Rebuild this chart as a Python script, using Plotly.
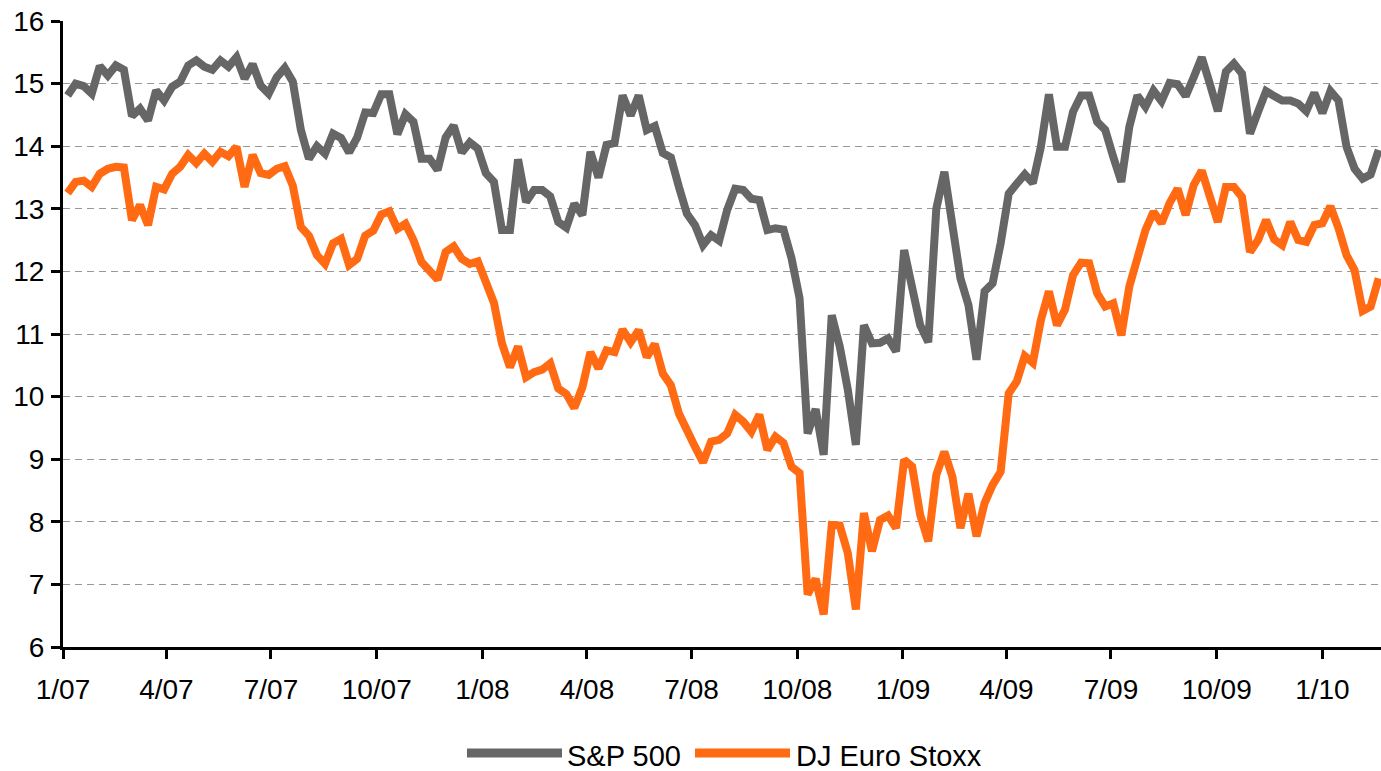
import pandas as pd
import plotly.graph_objects as go

# Weekly observations (Fridays) starting 5 Jan 2007
start_date = "2007-01-05"

sp500 = [
    14.81, 15.00, 14.96, 14.84, 15.28, 15.13, 15.29, 15.22, 14.48, 14.60,
    14.41, 14.89, 14.73, 14.95, 15.03, 15.29, 15.37, 15.27, 15.22, 15.37,
    15.27, 15.42, 15.08, 15.31, 14.97, 14.84, 15.10, 15.25, 15.03, 14.26,
    13.80, 14.00, 13.88, 14.20, 14.13, 13.90, 14.14, 14.54, 14.53, 14.83,
    14.83, 14.19, 14.51, 14.39, 13.80, 13.80, 13.62, 14.14, 14.33, 13.90,
    14.06, 13.96, 13.57, 13.43, 12.66, 12.66, 13.79, 13.11, 13.30, 13.30,
    13.20, 12.79, 12.70, 13.08, 12.90, 13.91, 13.50, 14.02, 14.05, 14.81,
    14.49, 14.81, 14.26, 14.32, 13.89, 13.82, 13.35, 12.92, 12.74, 12.42,
    12.58, 12.49, 12.98, 13.32, 13.30, 13.16, 13.14, 12.66, 12.69, 12.67,
    12.21, 11.57, 9.41, 9.80, 9.07, 11.30, 10.80, 10.11, 9.23, 11.14,
    10.85, 10.86, 10.93, 10.72, 12.34, 11.70, 11.14, 10.87, 13.00, 13.59,
    12.82, 11.89, 11.46, 10.59, 11.68, 11.81, 12.45, 13.24, 13.40, 13.55,
    13.41, 13.99, 14.83, 13.99, 13.99, 14.55, 14.81, 14.81, 14.39, 14.26,
    13.83, 13.43, 14.31, 14.81, 14.63, 14.89, 14.72, 15.01, 14.99, 14.80,
    15.10, 15.42, 15.00, 14.56, 15.19, 15.32, 15.16, 14.20, 14.55, 14.88,
    14.80, 14.73, 14.73, 14.68, 14.56, 14.85, 14.53, 14.88, 14.73, 13.99,
    13.64, 13.48, 13.55, 13.94,
]

euro_stoxx = [
    13.25, 13.43, 13.45, 13.35, 13.56, 13.64, 13.67, 13.66, 12.82, 13.06,
    12.74, 13.35, 13.31, 13.56, 13.67, 13.86, 13.73, 13.88, 13.75, 13.91,
    13.84, 13.99, 13.35, 13.86, 13.57, 13.54, 13.64, 13.68, 13.37, 12.71,
    12.57, 12.26, 12.12, 12.45, 12.52, 12.10, 12.20, 12.57, 12.65, 12.91,
    12.96, 12.68, 12.76, 12.50, 12.15, 12.00, 11.87, 12.31, 12.40, 12.20,
    12.12, 12.16, 11.80, 11.50, 10.85, 10.47, 10.80, 10.31, 10.39, 10.43,
    10.53, 10.13, 10.04, 9.82, 10.15, 10.71, 10.45, 10.74, 10.71, 11.07,
    10.87, 11.06, 10.63, 10.84, 10.37, 10.18, 9.73, 9.44, 9.20, 8.95,
    9.28, 9.31, 9.41, 9.71, 9.60, 9.44, 9.71, 9.15, 9.36, 9.26,
    8.88, 8.78, 6.84, 7.09, 6.52, 7.95, 7.94, 7.50, 6.60, 8.14,
    7.53, 8.03, 8.10, 7.90, 8.99, 8.88, 8.11, 7.69, 8.75, 9.12,
    8.72, 7.90, 8.45, 7.77, 8.30, 8.59, 8.80, 10.05, 10.24, 10.65,
    10.54, 11.22, 11.68, 11.14, 11.39, 11.94, 12.14, 12.13, 11.65, 11.44,
    11.49, 10.98, 11.76, 12.21, 12.66, 12.95, 12.77, 13.09, 13.32, 12.90,
    13.38, 13.61, 13.24, 12.79, 13.35, 13.35, 13.19, 12.31, 12.50, 12.82,
    12.51, 12.42, 12.79, 12.50, 12.47, 12.74, 12.77, 13.04, 12.69, 12.26,
    12.02, 11.37, 11.44, 11.89,
]

series_names = ["S&P 500", "DJ Euro Stoxx"]
series_colors = ["#666666", "#FF6A13"]

dates = pd.date_range(start_date, periods=len(sp500), freq="7D")

tick_dates = ["2007-01-01", "2007-04-01", "2007-07-01", "2007-10-01",
              "2008-01-01", "2008-04-01", "2008-07-01", "2008-10-01",
              "2009-01-01", "2009-04-01", "2009-07-01", "2009-10-01",
              "2010-01-01"]
tick_labels = ["1/07", "4/07", "7/07", "10/07", "1/08", "4/08", "7/08",
               "10/08", "1/09", "4/09", "7/09", "10/09", "1/10"]
y_ticks = [6, 7, 8, 9, 10, 11, 12, 13, 14, 15, 16]

FONT = "Arial, Liberation Sans, sans-serif"

fig = go.Figure()
for name, color, values in zip(series_names, series_colors, [sp500, euro_stoxx]):
    fig.add_trace(go.Scatter(x=dates, y=values, mode="lines", name=name,
                             line=dict(color=color, width=8),
                             showlegend=False))

# Legend drawn below the plot (long line swatches like the original)
legend_layout = [
    # (line x0, line x1, text x) in paper units
    (0.3065, 0.3786, 0.3808),
    (0.4795, 0.5516, 0.5546),
]
for (x0, x1, xt), name, color in zip(legend_layout, series_names, series_colors):
    fig.add_shape(type="line", xref="paper", yref="paper",
                  x0=x0, x1=x1, y0=-0.1693, y1=-0.1693,
                  line=dict(color=color, width=9))
    fig.add_annotation(text=name, xref="paper", yref="paper", x=xt, y=-0.1741,
                       xanchor="left", yanchor="middle", showarrow=False,
                       font=dict(size=29, family=FONT, color="black"))

fig.update_layout(
    width=1381, height=771,
    margin=dict(l=63, r=0, t=21, b=124, autoexpand=False),
    paper_bgcolor="white", plot_bgcolor="white",
    font=dict(family=FONT, size=28, color="black"),
    showlegend=False,
    xaxis=dict(
        type="date",
        range=["2007-01-01", "2010-02-21"],
        tickmode="array", tickvals=tick_dates, ticktext=tick_labels,
        showline=True, linecolor="black", linewidth=3,
        ticks="outside", ticklen=9, tickwidth=3, tickcolor="black",
        showgrid=False, zeroline=False, automargin=False,
        ticklabelstandoff=6,
        tickfont=dict(size=28),
    ),
    yaxis=dict(
        range=[6, 16],
        tickmode="array", tickvals=y_ticks,
        showline=True, linecolor="black", linewidth=3,
        ticks="outside", ticklen=9, tickwidth=3, tickcolor="black",
        showgrid=True, gridcolor="#999999", gridwidth=1, griddash="7px,5px",
        zeroline=False, automargin=False, ticklabelstandoff=1,
        tickfont=dict(size=28),
    ),
)

fig.write_html(
    "out.html",
    config={"displayModeBar": False},
    post_script="document.body.style.margin='0px';document.body.style.overflow='hidden';",
)
